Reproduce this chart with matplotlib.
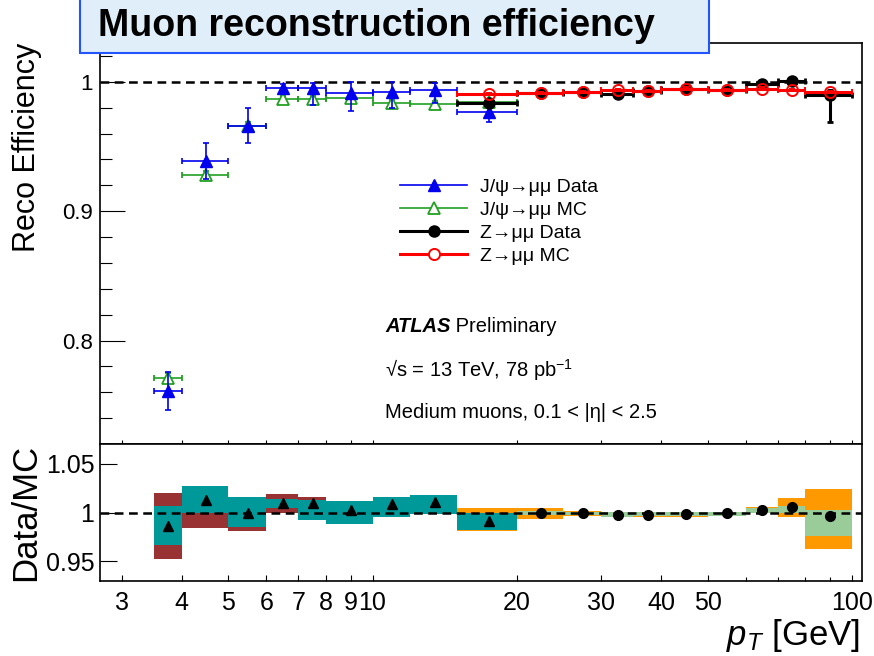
import numpy as np
import matplotlib
matplotlib.use("Agg")
import matplotlib.pyplot as plt
from matplotlib.lines import Line2D
from matplotlib.patches import Rectangle
from matplotlib.ticker import FixedLocator, FixedFormatter, NullLocator, MultipleLocator, FuncFormatter

plt.rcParams["font.family"] = ["Liberation Sans", "DejaVu Sans"]
plt.rcParams["mathtext.fontset"] = "custom"
plt.rcParams["mathtext.rm"] = "Liberation Sans"
plt.rcParams["mathtext.it"] = "Liberation Sans:italic"
plt.rcParams["mathtext.bf"] = "Liberation Sans:bold"

# ── J/psi -> mumu, pT bins [GeV] ─────────────────────────────────────────
jpsi_lo = np.array([3.5, 4, 5, 6, 7, 8, 10, 12, 15])
jpsi_hi = np.array([4, 5, 6, 7, 8, 10, 12, 15, 20])
jpsi_data = np.array([0.761, 0.939, 0.966, 0.9954, 0.9954, 0.9915, 0.992, 0.9938, 0.9768])
jpsi_data_dn = np.array([0.015, 0.014, 0.0135, 0.003, 0.0136, 0.0137, 0.0123, 0.010, 0.0075])
jpsi_data_up = np.array([0.015, 0.014, 0.0135, 0.003, 0.004, 0.008, 0.0075, 0.005, 0.0075])
jpsi_mc = np.array([0.771, 0.928, 0.966, 0.987, 0.987, 0.9876, 0.9838, 0.983, 0.9846])
jpsi_mc_err = np.array([0.004, 0.003, 0.003, 0.002, 0.002, 0.002, 0.002, 0.002, 0.002])

# ── Z -> mumu ───────────────────────────────────────────────────────────
z_lo = np.array([15, 20, 25, 30, 35, 40, 50, 60, 70, 80])
z_hi = np.array([20, 25, 30, 35, 40, 50, 60, 70, 80, 100])
z_data = np.array([0.984, 0.9915, 0.992, 0.9907, 0.993, 0.9946, 0.9938, 0.9985, 1.0008, 0.990])
z_data_dn = np.array([0.002, 0.001, 0.001, 0.001, 0.001, 0.001, 0.001, 0.002, 0.002, 0.021])
z_data_up = np.array([0.002, 0.001, 0.001, 0.001, 0.001, 0.001, 0.001, 0.002, 0.002, 0.004])
z_mc = np.array([0.9907, 0.9915, 0.992, 0.9938, 0.993, 0.9946, 0.9938, 0.9946, 0.9938, 0.992])
z_mc_err = np.array([0.001, 0.001, 0.001, 0.001, 0.001, 0.001, 0.001, 0.001, 0.001, 0.001])

# ── Data/MC ratios and uncertainty bands ────────────────────────────────
jpsi_ratio = np.array([0.986, 1.0126, 0.9996, 1.0092, 1.0092, 1.003, 1.0082, 1.0103, 0.991])
jpsi_stat_lo = np.array([0.9664, 0.999, 0.9852, 1.0041, 0.9928, 0.9887, 0.9949, 0.998, 0.9825])
jpsi_stat_hi = np.array([1.0068, 1.0273, 1.0154, 1.0133, 1.0126, 1.0119, 1.016, 1.0178, 1.0])
jpsi_tot_lo = np.array([0.952, 0.9846, 0.9811, 1.0, 0.9928, 0.9887, 0.9949, 0.998, 0.9825])
jpsi_tot_hi = np.array([1.0195, 1.0273, 1.0154, 1.0188, 1.0154, 1.0119, 1.016, 1.0178, 1.0])

z_ratio_lo = np.array([20, 25, 30, 35, 40, 50, 60, 70, 80])
z_ratio_hi = np.array([25, 30, 35, 40, 50, 60, 70, 80, 100])
z_ratio = np.array([0.9996, 0.9996, 0.9972, 0.9979, 0.9983, 0.999, 1.0027, 1.0055, 0.9962])
z_tot_lo = np.array([0.9811, 0.9938, 0.9966, 0.995, 0.9955, 0.9952, 0.996, 0.999, 0.9955, 0.963])
z_tot_hi = np.array([1.0047, 1.0047, 1.0013, 1.001, 1.0008, 1.0008, 1.001, 1.0055, 1.0144, 1.0236])
z_stat_lo = np.array([0.9825, 0.9972, 0.9972, 0.9955, 0.996, 0.996, 0.9965, 0.9996, 1.0, 0.9757])
z_stat_hi = np.array([1.0, 1.0013, 1.0008, 1.0007, 1.0003, 1.0003, 1.0005, 1.005, 1.0068, 1.0027])

xticks = [3, 4, 5, 6, 7, 8, 9, 10, 20, 30, 40, 50, 100]
xtick_labels = ["3", "4", "5", "6", "7", "8", "9", "10", "20", "30", "40", "50", "100"]

BLUE, GREEN, RED = "#0000ee", "#22a022", "#ff0000"
BROWN, TEAL, ORANGE, LGREEN = "#993333", "#009999", "#ff9900", "#99cc99"

W, H = 874, 656
fig = plt.figure(figsize=(W / 100, H / 100), dpi=100)
ax = fig.add_axes([100 / W, 1 - 444 / H, 762 / W, 401 / H])
axr = fig.add_axes([100 / W, 1 - 581 / H, 762 / W, 137 / H])

dash = (0, (3.5, 2.2))

# ── upper panel: efficiencies ───────────────────────────────────────────
jc = 0.5 * (jpsi_lo + jpsi_hi)
zc = 0.5 * (z_lo + z_hi)
ax.axhline(1.0, color="black", ls=dash, lw=1.8, zorder=1)
ax.errorbar(jc, jpsi_mc, yerr=jpsi_mc_err, xerr=[jc - jpsi_lo, jpsi_hi - jc],
            fmt="^", color=GREEN, mfc="white", mec=GREEN, ms=8.5, mew=1.3,
            lw=1.2, capsize=2.5, capthick=1.2, zorder=3)
ax.errorbar(jc, jpsi_data, yerr=[jpsi_data_dn, jpsi_data_up], xerr=[jc - jpsi_lo, jpsi_hi - jc],
            fmt="^", color=BLUE, ms=8.5, lw=1.2, capsize=2.5, capthick=1.2, zorder=4)
ax.errorbar(zc, z_data, yerr=[z_data_dn, z_data_up], xerr=[zc - z_lo, z_hi - zc],
            fmt="o", color="black", ms=8, lw=2.2, capsize=2, capthick=2, zorder=5)
ax.errorbar(zc, z_mc, yerr=z_mc_err, xerr=[zc - z_lo, z_hi - zc],
            fmt="o", color=RED, mfc="none", mec=RED, ms=8, mew=1.4,
            lw=2.2, capsize=2, capthick=2, zorder=6)

ax.set_xscale("log")
ax.set_xlim(2.7, 105)
ax.set_ylim(0.72, 1.03)
ax.xaxis.set_major_locator(FixedLocator(xticks))
ax.xaxis.set_minor_locator(FixedLocator([60, 70, 80, 90]))
ax.xaxis.set_major_formatter(FixedFormatter([""] * len(xticks)))
ax.xaxis.set_minor_formatter(FixedFormatter([]))
ax.yaxis.set_major_locator(MultipleLocator(0.1))
ax.yaxis.set_minor_locator(MultipleLocator(0.02))
ax.yaxis.set_major_formatter(FuncFormatter(lambda v, p: f"{v:g}"))
ax.tick_params(axis="y", which="major", direction="in", length=18, width=0.8, labelsize=16, pad=5)
ax.tick_params(axis="y", which="minor", direction="in", length=8.5, width=0.8)
ax.tick_params(axis="x", which="both", direction="in", length=3, width=0.8, labelbottom=False)
for s in ax.spines.values():
    s.set_linewidth(1.2)

handles = [
    Line2D([], [], color=BLUE, lw=1.2, marker="^", ms=8.5),
    Line2D([], [], color=GREEN, lw=1.2, marker="^", ms=8.5, mfc="white", mew=1.3),
    Line2D([], [], color="black", lw=2.2, marker="o", ms=8),
    Line2D([], [], color=RED, lw=2.2, marker="o", ms=8, mfc="white", mew=1.4),
]
labels = ["J/ψ→μμ Data", "J/ψ→μμ MC", "Z→μμ Data", "Z→μμ MC"]
ax.legend(handles, labels, loc="upper left", bbox_to_anchor=(400 / W, 1 - 178 / H),
          bbox_transform=fig.transFigure, frameon=False, fontsize=14,
          handlelength=3.45, handletextpad=0.65, labelspacing=0.28,
          borderpad=0, borderaxespad=0)

t1 = fig.text(385 / W, 1 - 332 / H, "ATLAS", fontsize=14.5, fontweight="bold",
              fontstyle="italic", va="baseline")
ax.annotate(" Preliminary", xy=(1, 0), xycoords=t1, fontsize=14.5, va="bottom")
fig.text(385 / W, 1 - 377 / H, "√s = 13 TeV, 78 pb$^{-1}$", fontsize=14.5, va="baseline")
fig.text(385 / W, 1 - 418 / H, "Medium muons, 0.1 < |η| < 2.5", fontsize=14.5, va="baseline")

# ── lower panel: Data/MC ────────────────────────────────────────────────
axr.bar(z_lo, z_tot_hi - z_tot_lo, width=z_hi - z_lo, bottom=z_tot_lo, align="edge",
        color=ORANGE, lw=0, zorder=1)
axr.bar(z_lo, z_stat_hi - z_stat_lo, width=z_hi - z_lo, bottom=z_stat_lo, align="edge",
        color=LGREEN, lw=0, zorder=2)
axr.bar(jpsi_lo, jpsi_tot_hi - jpsi_tot_lo, width=jpsi_hi - jpsi_lo, bottom=jpsi_tot_lo,
        align="edge", color=BROWN, lw=0, zorder=3)
axr.bar(jpsi_lo, jpsi_stat_hi - jpsi_stat_lo, width=jpsi_hi - jpsi_lo, bottom=jpsi_stat_lo,
        align="edge", color=TEAL, lw=0, zorder=4)
axr.axhline(1.0, color="black", ls=dash, lw=1.8, zorder=5)
axr.plot(jc, jpsi_ratio, "^", color="black", ms=7, zorder=6)
axr.plot(0.5 * (z_ratio_lo + z_ratio_hi), z_ratio, "o", color="black", ms=7, zorder=6)

axr.set_xscale("log")
axr.set_xlim(2.7, 105)
axr.set_ylim(0.93, 1.07)
axr.xaxis.set_major_locator(FixedLocator(xticks))
axr.xaxis.set_major_formatter(FixedFormatter(xtick_labels))
axr.xaxis.set_minor_locator(FixedLocator([60, 70, 80, 90]))
axr.xaxis.set_minor_formatter(FixedFormatter([]))
axr.yaxis.set_major_locator(FixedLocator([0.95, 1.0, 1.05]))
axr.yaxis.set_major_formatter(FixedFormatter(["0.95", "1", "1.05"]))
axr.yaxis.set_minor_locator(NullLocator())
axr.tick_params(axis="y", direction="in", length=12, width=0.8, labelsize=18, pad=4)
axr.tick_params(axis="x", which="major", direction="in", length=4.5, width=0.8, labelsize=18, pad=7)
axr.tick_params(axis="x", which="minor", direction="in", length=3, width=0.8)
for s in axr.spines.values():
    s.set_linewidth(1.2)

fig.text(27 / W, 1 - 43 / H, "Reco Efficiency", rotation=90, ha="center", va="top", fontsize=22)
fig.text(26 / W, 1 - 444 / H, "Data/MC", rotation=90, ha="center", va="top", fontsize=25)
fig.text(860 / W, 2 / H, r"$p_{T}$ [GeV]", ha="right", va="bottom", fontsize=25)

# title box
fig.add_artist(Rectangle((80 / W, 1 - 53 / H), 629 / W, 60 / H, transform=fig.transFigure,
                         fc="#dfeef8", ec="#2255ff", lw=1.5, zorder=10))
fig.text(98 / W, 1 - 26 / H, "Muon reconstruction efficiency", fontsize=27,
         fontweight="bold", va="center", zorder=11)

fig.savefig("out.png", dpi=100)
